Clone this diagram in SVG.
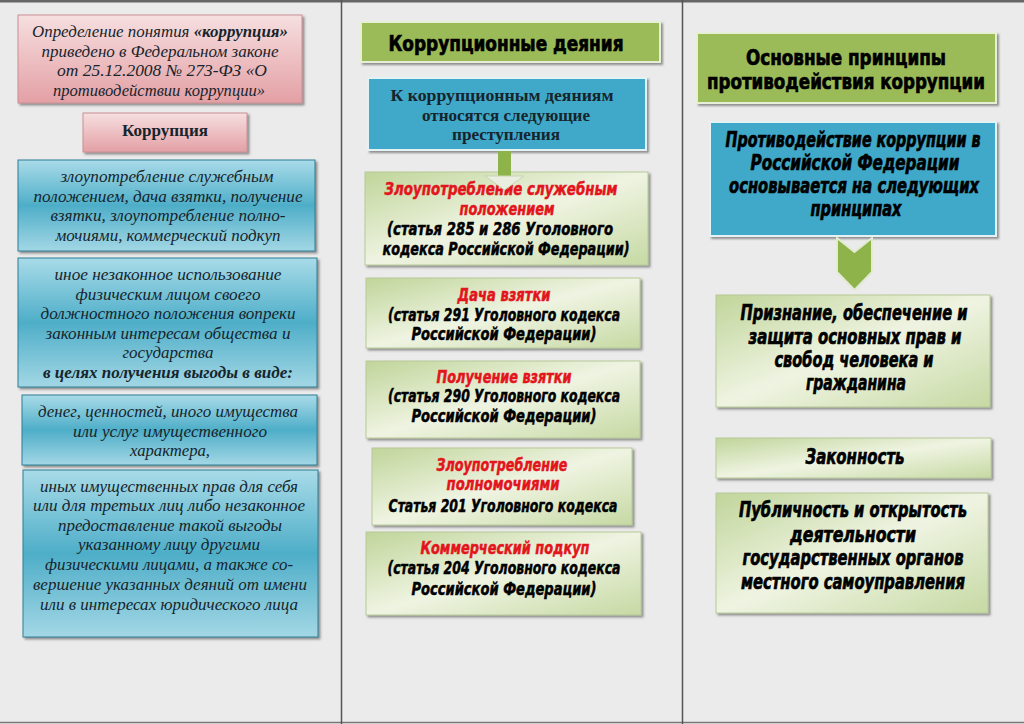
<svg xmlns="http://www.w3.org/2000/svg" width="1024" height="724" viewBox="0 0 1024 724">
<defs>
<style>
.ser{font-family:"Liberation Serif","Times New Roman",serif;font-style:italic;font-size:17px;fill:#16242c;text-anchor:middle}
.serb{font-family:"Liberation Serif","Times New Roman",serif;font-weight:bold;font-size:16.5px;fill:#16242c;text-anchor:middle}
.imp{font-family:"Liberation Sans Narrow","DejaVu Sans Condensed","Liberation Sans",sans-serif;font-weight:bold;font-style:italic;font-size:18.5px;fill:#000;stroke:#000;stroke-width:0.5;text-anchor:middle}
.imph{font-family:"Liberation Sans Narrow","DejaVu Sans Condensed","Liberation Sans",sans-serif;font-weight:bold;font-size:22px;fill:#000;stroke:#000;stroke-width:0.7;text-anchor:middle}
.impr{font-family:"Liberation Sans Narrow","DejaVu Sans Condensed","Liberation Sans",sans-serif;font-weight:bold;font-style:italic;font-size:20.5px;fill:#000;stroke:#000;stroke-width:0.65;text-anchor:middle}
.imp.red{fill:#e3151c;stroke:#e3151c}
.pink{fill:url(#gPink);stroke:#c99094;stroke-width:1}
.blueL{fill:url(#gBlue);stroke:#2f7f95;stroke-width:1}
.blueS{fill:#3fa8c8;stroke:#e4f1f5;stroke-width:2}
.greenH{fill:#9bbb59;stroke:#e6eed6;stroke-width:2}
.greenB{fill:url(#gGreen);stroke:#b7c99a;stroke-width:1}
</style>
<linearGradient id="gPink" x1="0" y1="0" x2="0" y2="1">
<stop offset="0" stop-color="#f6dfe0"/><stop offset="0.55" stop-color="#ecbcbf"/><stop offset="1" stop-color="#e3a0a5"/>
</linearGradient>
<linearGradient id="gBlue" x1="0" y1="0" x2="0" y2="1">
<stop offset="0" stop-color="#a9dbe8"/><stop offset="0.5" stop-color="#4eaec8"/><stop offset="1" stop-color="#a3d7e5"/>
</linearGradient>
<linearGradient id="gGreen" x1="0" y1="0" x2="1" y2="1">
<stop offset="0" stop-color="#c0d59a"/><stop offset="0.5" stop-color="#eff4e2"/><stop offset="1" stop-color="#c6d9a3"/>
</linearGradient>
<filter id="sh" x="-5%" y="-10%" width="115%" height="130%">
<feDropShadow dx="2" dy="2" stdDeviation="1" flood-color="#444" flood-opacity="0.55"/>
</filter>
</defs>
<rect x="0" y="0" width="1024" height="724" fill="#ebebeb"/>
<rect x="0" y="0" width="1024" height="2.5" fill="#666"/>
<line x1="0" y1="722.5" x2="1024" y2="722.5" stroke="#777" stroke-width="1.5"/>
<line x1="341.5" y1="0" x2="341.5" y2="724" stroke="#555" stroke-width="1.5"/>
<line x1="682.5" y1="0" x2="682.5" y2="724" stroke="#555" stroke-width="1.5"/>

<g id="definition">
<rect class="pink" x="18" y="15" width="284" height="88" filter="url(#sh)"/>
<text class="ser" x="160" y="37" textLength="256" lengthAdjust="spacingAndGlyphs">Определение понятия <tspan font-weight="bold">«коррупция»</tspan></text>
<text class="ser" x="160" y="57" textLength="237" lengthAdjust="spacingAndGlyphs">приведено в Федеральном законе</text>
<text class="ser" x="162" y="76" textLength="210" lengthAdjust="spacingAndGlyphs">от 25.12.2008 № 273-ФЗ «О</text>
<text class="ser" x="159" y="96" textLength="212" lengthAdjust="spacingAndGlyphs">противодействии коррупции»</text>
</g>
<g id="corruption">
<rect class="pink" x="83" y="113" width="164" height="39" filter="url(#sh)"/>
<text class="serb" x="165" y="136" textLength="86" lengthAdjust="spacingAndGlyphs">Коррупция</text>
</g>
<g id="abuse">
<rect class="blueL" x="18" y="160" width="297" height="91" filter="url(#sh)"/>
<text class="ser" x="167" y="182" textLength="213" lengthAdjust="spacingAndGlyphs">злоупотребление служебным</text>
<text class="ser" x="168" y="202" textLength="269" lengthAdjust="spacingAndGlyphs">положением, дача взятки, получение</text>
<text class="ser" x="168" y="221" textLength="235" lengthAdjust="spacingAndGlyphs">взятки, злоупотребление полно-</text>
<text class="ser" x="168" y="241" textLength="225" lengthAdjust="spacingAndGlyphs">мочиями, коммерческий подкуп</text>
</g>
<g id="illegal-use">
<rect class="blueL" x="18" y="258" width="299" height="129" filter="url(#sh)"/>
<text class="ser" x="168" y="280" textLength="227" lengthAdjust="spacingAndGlyphs">иное незаконное использование</text>
<text class="ser" x="168" y="300" textLength="185" lengthAdjust="spacingAndGlyphs">физическим лицом своего</text>
<text class="ser" x="168" y="319" textLength="255" lengthAdjust="spacingAndGlyphs">должностного положения вопреки</text>
<text class="ser" x="168" y="339" textLength="245" lengthAdjust="spacingAndGlyphs">законным интересам общества и</text>
<text class="ser" x="168" y="358" textLength="91" lengthAdjust="spacingAndGlyphs">государства</text>
<text class="ser" x="168" y="378" font-weight="bold" textLength="250" lengthAdjust="spacingAndGlyphs">в целях получения выгоды в виде:</text>
</g>
<g id="money">
<rect class="blueL" x="22" y="395" width="295" height="70" filter="url(#sh)"/>
<text class="ser" x="168" y="417" textLength="260" lengthAdjust="spacingAndGlyphs">денег, ценностей, иного имущества</text>
<text class="ser" x="170" y="437" textLength="194" lengthAdjust="spacingAndGlyphs">или услуг имущественного</text>
<text class="ser" x="170" y="456" textLength="80" lengthAdjust="spacingAndGlyphs">характера,</text>
</g>
<g id="rights">
<rect class="blueL" x="23" y="470" width="295" height="167" filter="url(#sh)"/>
<text class="ser" x="169" y="492" textLength="258" lengthAdjust="spacingAndGlyphs">иных имущественных прав для себя</text>
<text class="ser" x="169" y="511" textLength="272" lengthAdjust="spacingAndGlyphs">или для третьих лиц либо незаконное</text>
<text class="ser" x="170" y="531" textLength="224" lengthAdjust="spacingAndGlyphs">предоставление такой выгоды</text>
<text class="ser" x="169" y="550" textLength="182" lengthAdjust="spacingAndGlyphs">указанному лицу другими</text>
<text class="ser" x="169" y="570" textLength="248" lengthAdjust="spacingAndGlyphs">физическими лицами, а также со-</text>
<text class="ser" x="170" y="590" textLength="274" lengthAdjust="spacingAndGlyphs">вершение указанных деяний от имени</text>
<text class="ser" x="169" y="610" textLength="258" lengthAdjust="spacingAndGlyphs">или в интересах юридического лица</text>
</g>

<g id="acts-header">
<rect class="greenH" x="361" y="22" width="299" height="40" filter="url(#sh)"/>
<text class="imph" x="506" y="51" font-size="21" textLength="235" lengthAdjust="spacingAndGlyphs">Коррупционные деяния</text>
</g>
<g id="acts-intro">
<rect class="blueS" x="368" y="78" width="278" height="72" filter="url(#sh)"/>
<text class="serb" x="502" y="101" textLength="223" lengthAdjust="spacingAndGlyphs">К коррупционным деяниям</text>
<text class="serb" x="506" y="121" textLength="168" lengthAdjust="spacingAndGlyphs">относятся следующие</text>
<text class="serb" x="506" y="140" textLength="108" lengthAdjust="spacingAndGlyphs">преступления</text>
</g>
<g id="act1">
<rect class="greenB" x="365" y="172" width="283" height="93" filter="url(#sh)"/>
<text class="imp red" x="501" y="195" textLength="233" lengthAdjust="spacingAndGlyphs">Злоупотребление служебным</text>
<text class="imp red" x="507" y="215" textLength="95" lengthAdjust="spacingAndGlyphs">положением</text>
<text class="imp" x="500" y="235" textLength="226" lengthAdjust="spacingAndGlyphs">(статья 285 и 286 Уголовного</text>
<text class="imp" x="506" y="255" textLength="247" lengthAdjust="spacingAndGlyphs">кодекса Российской Федерации)</text>
</g>
<g id="act2">
<rect class="greenB" x="366" y="278" width="274" height="70" filter="url(#sh)"/>
<text class="imp red" x="504" y="301" textLength="93" lengthAdjust="spacingAndGlyphs">Дача взятки</text>
<text class="imp" x="504" y="321" textLength="232" lengthAdjust="spacingAndGlyphs">(статья 291 Уголовного кодекса</text>
<text class="imp" x="504" y="340" textLength="185" lengthAdjust="spacingAndGlyphs">Российской Федерации)</text>
</g>
<g id="act3">
<rect class="greenB" x="366" y="361" width="274" height="77" filter="url(#sh)"/>
<text class="imp red" x="504" y="383" textLength="135" lengthAdjust="spacingAndGlyphs">Получение взятки</text>
<text class="imp" x="504" y="402" textLength="232" lengthAdjust="spacingAndGlyphs">(статья 290 Уголовного кодекса</text>
<text class="imp" x="504" y="422" textLength="185" lengthAdjust="spacingAndGlyphs">Российской Федерации)</text>
</g>
<g id="act4">
<rect class="greenB" x="372" y="448" width="260" height="77" filter="url(#sh)"/>
<text class="imp red" x="502" y="471" textLength="131" lengthAdjust="spacingAndGlyphs">Злоупотребление</text>
<text class="imp red" x="503" y="490" textLength="113" lengthAdjust="spacingAndGlyphs">полномочиями</text>
<text class="imp" x="503" y="512" textLength="229" lengthAdjust="spacingAndGlyphs">Статья 201  Уголовного кодекса</text>
</g>
<g id="act5">
<rect class="greenB" x="366" y="532" width="275" height="83" filter="url(#sh)"/>
<text class="imp red" x="505" y="554" textLength="169" lengthAdjust="spacingAndGlyphs">Коммерческий подкуп</text>
<text class="imp" x="504" y="574" textLength="233" lengthAdjust="spacingAndGlyphs">(статья 204 Уголовного кодекса</text>
<text class="imp" x="504" y="595" textLength="185" lengthAdjust="spacingAndGlyphs">Российской Федерации)</text>
</g>

<g id="principles-header">
<rect class="greenH" x="697" y="33" width="299" height="70" filter="url(#sh)"/>
<text class="imph" transform="translate(846,65) scale(0.8,1)" x="0" y="0" textLength="250" lengthAdjust="spacingAndGlyphs">Основные принципы</text>
<text class="imph" transform="translate(846,89) scale(0.8,1)" x="0" y="0" textLength="347.5" lengthAdjust="spacingAndGlyphs">противодействия коррупции</text>
</g>
<g id="principles-intro">
<rect class="blueS" x="710" y="122" width="286" height="114" filter="url(#sh)"/>
<text class="impr" transform="translate(853,147) scale(0.8,1)" x="0" y="0" textLength="318.75" lengthAdjust="spacingAndGlyphs">Противодействие коррупции в</text>
<text class="impr" transform="translate(855,170) scale(0.8,1)" x="0" y="0" textLength="261.25" lengthAdjust="spacingAndGlyphs">Российской Федерации</text>
<text class="impr" transform="translate(854,193) scale(0.8,1)" x="0" y="0" textLength="312.5" lengthAdjust="spacingAndGlyphs">основывается на следующих</text>
<text class="impr" transform="translate(856,216) scale(0.8,1)" x="0" y="0" textLength="113.75" lengthAdjust="spacingAndGlyphs">принципах</text>
</g>
<g id="p1">
<rect class="greenB" x="716" y="295" width="274" height="112" filter="url(#sh)"/>
<text class="impr" transform="translate(854,320) scale(0.8,1)" x="0" y="0" textLength="283.75" lengthAdjust="spacingAndGlyphs">Признание, обеспечение и</text>
<text class="impr" transform="translate(855,344) scale(0.8,1)" x="0" y="0" textLength="266.25" lengthAdjust="spacingAndGlyphs">защита основных прав и</text>
<text class="impr" transform="translate(854,367) scale(0.8,1)" x="0" y="0" textLength="198.75" lengthAdjust="spacingAndGlyphs">свобод человека и</text>
<text class="impr" transform="translate(856,390) scale(0.8,1)" x="0" y="0" textLength="125" lengthAdjust="spacingAndGlyphs">гражданина</text>
</g>
<g id="p2">
<rect class="greenB" x="716" y="438" width="275" height="40" filter="url(#sh)"/>
<text class="impr" transform="translate(855,464) scale(0.8,1)" x="0" y="0" textLength="123.75" lengthAdjust="spacingAndGlyphs">Законность</text>
</g>
<g id="p3">
<rect class="greenB" x="716" y="493" width="272" height="120" filter="url(#sh)"/>
<text class="impr" transform="translate(853,517) scale(0.8,1)" x="0" y="0" textLength="285" lengthAdjust="spacingAndGlyphs">Публичность и открытость</text>
<text class="impr" transform="translate(853,542) scale(0.8,1)" x="0" y="0" textLength="157.5" lengthAdjust="spacingAndGlyphs">деятельности</text>
<text class="impr" transform="translate(853,565) scale(0.8,1)" x="0" y="0" textLength="276.25" lengthAdjust="spacingAndGlyphs">государственных органов</text>
<text class="impr" transform="translate(853,589) scale(0.8,1)" x="0" y="0" textLength="280" lengthAdjust="spacingAndGlyphs">местного самоуправления</text>
</g>

<g id="connectors">
<rect x="498" y="151" width="13" height="26" fill="#8db34a"/>
<polygon points="485,176 524,176 504.5,190" fill="#e9eee0" stroke="#c8d4b2" stroke-width="1"/>
<polygon points="837,238 854.5,252 872,238 872,272 854.5,290 837,272" fill="#8db34a" stroke="#e2ead2" stroke-width="2"/>
</g>
</svg>
